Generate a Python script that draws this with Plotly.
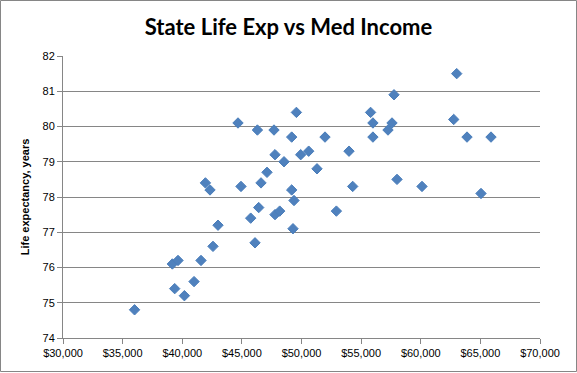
import plotly.graph_objects as go

# Median household income (USD)
income = [
    36000, 39170, 39644, 39367, 40180, 40989, 41572, 41942, 42327, 42578,
    42998, 44675, 44926, 45740, 46101, 46302, 46411, 46604, 47107, 47694,
    47778, 47778, 48172, 48533, 49178, 49178, 49371, 49288, 49572, 49933,
    50604, 51300, 51971, 52926, 53983, 54293, 55793, 55990, 55990, 57253,
    57589, 57757, 58009, 60105, 62764, 63015, 63879, 65052, 65891,
]
# Life expectancy (years)
life_exp = [
    74.8, 76.1, 76.2, 75.4, 75.2, 75.6, 76.2, 78.4, 78.2, 76.6,
    77.2, 80.1, 78.3, 77.4, 76.7, 79.9, 77.7, 78.4, 78.7, 79.9,
    79.2, 77.5, 77.6, 79.0, 79.7, 78.2, 77.9, 77.1, 80.4, 79.2,
    79.3, 78.8, 79.7, 77.6, 79.3, 78.3, 80.4, 80.1, 79.7, 79.9,
    80.1, 80.9, 78.5, 78.3, 80.2, 81.5, 79.7, 78.1, 79.7,
]
x_ticks = [30000, 35000, 40000, 45000, 50000, 55000, 60000, 65000, 70000]
y_ticks = [74, 75, 76, 77, 78, 79, 80, 81, 82]

W, H = 577, 373
L, R, T, B = 63, 37, 56, 35
pw, ph = W - L - R, H - T - B

fig = go.Figure()
fig.add_trace(go.Scatter(
    x=income, y=life_exp, mode="markers",
    marker=dict(symbol="diamond", size=8, color="#4F81BD",
                line=dict(color="#4A7EBB", width=1)),
    showlegend=False,
))

grid = "#868686"
fig.update_layout(
    width=W, height=H,
    margin=dict(l=L, r=R, t=T, b=B),
    paper_bgcolor="white", plot_bgcolor="white",
    font=dict(family="Liberation Sans, Arial, sans-serif", size=11, color="#000000"),
    title=dict(text="<b>State Life Exp vs Med Income</b>", x=0.5, xanchor="center",
               y=1 - 27 / H, yanchor="middle",
               font=dict(family="Lato, Liberation Sans, sans-serif", size=22, color="#000000")),
    xaxis=dict(range=[30000, 70000], tickvals=x_ticks, tickformat="$,.0f",
               showgrid=False, showline=True, linecolor=grid, linewidth=1,
               ticks="outside", ticklen=5, tickcolor=grid, zeroline=False,
               tickfont=dict(size=11)),
    yaxis=dict(range=[74, 82], tickvals=y_ticks,
               showgrid=True, gridcolor=grid, gridwidth=1,
               showline=True, linecolor=grid, linewidth=1,
               ticks="outside", ticklen=5, tickcolor=grid, zeroline=False,
               tickfont=dict(size=11),
               title=dict(text="<b>Life expectancy, years</b>", standoff=10,
                          font=dict(size=11))),
)

# outer chart border
fig.add_shape(type="rect", xref="paper", yref="paper",
              x0=(0.5 - L) / pw, x1=(W - 0.5 - L) / pw,
              y0=(H - B - (H - 1.5)) / ph, y1=(H - B - 0.5) / ph,
              line=dict(color="#868686", width=1), fillcolor="rgba(0,0,0,0)")

fig.write_html("out.html", config={"displayModeBar": False},
               post_script="document.body.style.margin='0';document.body.style.overflow='hidden';")
